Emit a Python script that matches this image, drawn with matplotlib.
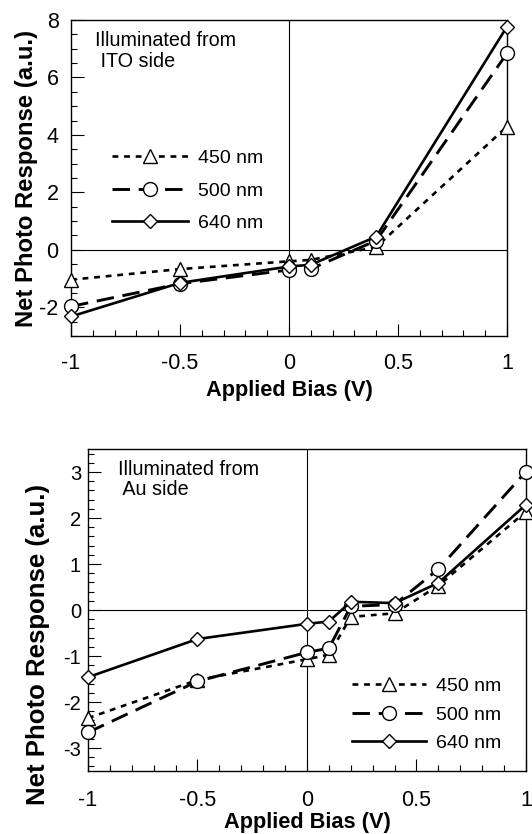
import numpy as np
import matplotlib
matplotlib.use("Agg")
import matplotlib.pyplot as plt
from matplotlib.ticker import MultipleLocator, FixedLocator

plt.rcParams['font.family'] = ['Liberation Sans', 'DejaVu Sans']
plt.rcParams['axes.unicode_minus'] = False

# top panel: illuminated from ITO side
bias_top = [-1, -0.5, 0, 0.1, 0.4, 1]
ito_450 = [-1.04, -0.67, -0.40, -0.35, 0.10, 4.29]
ito_500 = [-1.97, -1.18, -0.70, -0.66, 0.32, 6.84]
ito_640 = [-2.32, -1.15, -0.58, -0.52, 0.46, 7.77]

# bottom panel: illuminated from Au side
bias_bot = [-1, -0.5, 0, 0.1, 0.2, 0.4, 0.6, 1]
au_450 = [-2.35, -1.52, -1.07, -0.97, -0.15, -0.07, 0.53, 2.14]
au_500 = [-2.66, -1.55, -0.92, -0.83, 0.08, 0.12, 0.89, 3.01]
au_640 = [-1.46, -0.63, -0.30, -0.25, 0.18, 0.15, 0.59, 2.29]

labels = ['450 nm', '500 nm', '640 nm']
xticks = [-1, -0.5, 0, 0.5, 1]
xticklabels = ['-1', '-0.5', '0', '0.5', '1']

styles = [
    dict(ls=(0, (2.2, 2.2)), marker='^', ms=9.5, lw=1.9),
    dict(ls=(0, (6, 3)), marker='o', ms=10, lw=2.1),
    dict(ls='-', marker='D', ms=7, lw=1.9),
]

fig = plt.figure(figsize=(5.32, 8.34), dpi=100)
ax1 = fig.add_axes([0.1335, 0.5971, 0.8195, 0.3789])
ax2 = fig.add_axes([0.1654, 0.0755, 0.8233, 0.3861])


def draw(ax, x, series, ylab_size):
    for ys, st, lab in zip(series, styles, labels):
        ax.plot(x, ys, color='black', mfc='white', mec='black', mew=1.0,
                label=lab, clip_on=False, zorder=3, **st)
    ax.axhline(0, color='black', lw=0.8, zorder=1)
    ax.axvline(0, color='black', lw=0.8, zorder=1)
    ax.set_xlim(-1, 1)
    ax.xaxis.set_major_locator(FixedLocator(xticks))
    ax.set_xticklabels(xticklabels)
    ax.xaxis.set_minor_locator(MultipleLocator(0.1))
    ax.tick_params(which='both', direction='in', top=False, right=False, labelsize=15.5)
    ax.tick_params(which='major', length=9, width=0.8)
    ax.tick_params(which='minor', length=4, width=0.8)
    for s in ax.spines.values():
        s.set_linewidth(1.0)
    ax.set_xlabel('Applied Bias (V)', fontsize=15.7, fontweight='bold')
    ax.set_ylabel('Net Photo Response (a.u.)', fontsize=ylab_size, fontweight='bold')


draw(ax1, bias_top, [ito_450, ito_500, ito_640], 17.2)
ax1.set_ylim(-3, 8)
ax1.yaxis.set_major_locator(FixedLocator([-2, 0, 2, 4, 6, 8]))
ax1.yaxis.set_minor_locator(MultipleLocator(0.5))
ax1.tick_params(axis='y', pad=9)
ax1.tick_params(axis='x', pad=12)
ax1.yaxis.set_label_coords(-0.076, 0.5)
ax1.xaxis.set_label_coords(0.5, -0.14)
ax1.text(0.055, 0.965, 'Illuminated from\n ITO side', transform=ax1.transAxes,
         fontsize=14.2, va='top', ha='left', linespacing=1.1)
ax1.legend(loc='upper left', bbox_to_anchor=(0.094, 0.59), frameon=False,
           fontsize=14, handlelength=3.9, handletextpad=0.5, labelspacing=0.76,
           borderpad=0, borderaxespad=0)

draw(ax2, bias_bot, [au_450, au_500, au_640], 18.5)
ax2.set_ylim(-3.5, 3.5)
ax2.yaxis.set_major_locator(FixedLocator([-3, -2, -1, 0, 1, 2, 3]))
ax2.yaxis.set_minor_locator(MultipleLocator(0.2))
ax2.tick_params(axis='y', pad=5, labelsize=14.5)
ax2.tick_params(axis='x', pad=14)
ax2.yaxis.set_label_coords(-0.087, 0.394)
ax2.xaxis.set_label_coords(0.5, -0.128)
ax2.text(0.068, 0.966, 'Illuminated from\n Au side', transform=ax2.transAxes,
         fontsize=14.2, va='top', ha='left', linespacing=1.1)
ax2.legend(loc='upper left', bbox_to_anchor=(0.603, 0.29), frameon=False,
           fontsize=14, handlelength=3.8, handletextpad=0.5, labelspacing=0.55,
           borderpad=0, borderaxespad=0)

fig.savefig('out.png', dpi=100)
